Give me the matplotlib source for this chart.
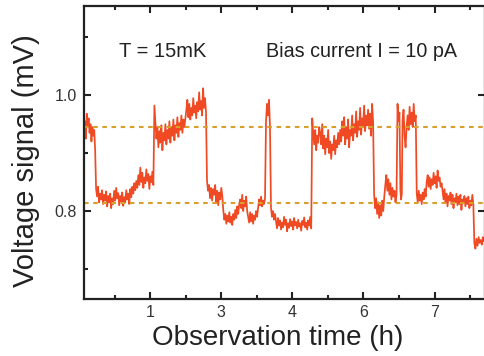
import numpy as np
import matplotlib
matplotlib.use('Agg')
import matplotlib.pyplot as plt
from matplotlib.ticker import FixedLocator, FixedFormatter

# segment edges along the time axis (axis units, ticks sit at 1..5)
edges = [0.07, 0.24, 1.06, 1.51, 1.80, 2.03, 2.63, 2.70, 3.28, 4.15,
         4.48, 4.52, 4.55, 4.75, 5.56, 5.71]

# voltage readings (mV) for each plateau
seg_a = [0.930, 0.955, 0.925, 0.968, 0.945, 0.960, 0.935, 0.950, 0.920, 0.945,
         0.930, 0.940, 0.905]
seg_b = [0.838, 0.825, 0.842, 0.815, 0.830, 0.820, 0.836, 0.812, 0.828, 0.818,
         0.834, 0.808, 0.826, 0.815, 0.830, 0.805, 0.822, 0.812, 0.835, 0.818,
         0.840, 0.822, 0.831, 0.810, 0.826, 0.816, 0.832, 0.809, 0.824, 0.815,
         0.836, 0.820, 0.830, 0.812, 0.838, 0.824,
         0.842, 0.830, 0.848, 0.836, 0.852, 0.840,
         0.862, 0.845, 0.875, 0.850, 0.866, 0.840, 0.858, 0.848, 0.872, 0.852,
         0.864, 0.838, 0.860, 0.850, 0.868, 0.845]
seg_c = [0.982, 0.955, 0.925, 0.945, 0.910, 0.938, 0.918, 0.948, 0.905, 0.935,
         0.922, 0.950, 0.915, 0.940, 0.925, 0.955, 0.918, 0.945, 0.930, 0.958,
         0.922, 0.948, 0.935, 0.962, 0.928, 0.952, 0.940, 0.965, 0.935, 0.958,
         0.945, 0.960]
seg_d = [0.975, 0.992, 0.962, 0.985, 0.958, 0.978, 0.965, 0.995, 0.970, 0.982,
         0.960, 0.988, 0.972, 1.005, 0.975, 0.990, 0.965, 1.012, 0.978, 0.995,
         0.970]
seg_e = [0.852, 0.835, 0.845, 0.822, 0.840, 0.818, 0.838, 0.828, 0.845, 0.815,
         0.835, 0.810, 0.832, 0.820, 0.840, 0.825]
seg_f = [0.800, 0.785, 0.795, 0.778, 0.792, 0.782, 0.798, 0.780, 0.790, 0.776,
         0.795, 0.785, 0.802, 0.788, 0.808, 0.795, 0.812,
         0.820, 0.805, 0.828, 0.800, 0.818, 0.808, 0.825, 0.800,
         0.790, 0.780, 0.798, 0.782, 0.795, 0.778, 0.792, 0.785, 0.800, 0.790,
         0.805, 0.820, 0.810, 0.825, 0.808, 0.818, 0.812, 0.822]
seg_g = [0.955, 0.985, 0.965, 0.992, 0.945]
seg_h = [0.805, 0.790, 0.800, 0.785, 0.795,
         0.782, 0.770, 0.788, 0.775, 0.784, 0.768, 0.780, 0.772, 0.790, 0.776,
         0.785, 0.765, 0.779, 0.771, 0.786, 0.774, 0.782, 0.768, 0.788, 0.775,
         0.781, 0.770, 0.785, 0.773, 0.779, 0.766, 0.783, 0.776, 0.789, 0.772,
         0.780, 0.768, 0.784, 0.775, 0.790, 0.770]
seg_i = [0.960, 0.935, 0.915, 0.940, 0.905, 0.930, 0.918, 0.945,
         0.935, 0.915, 0.950, 0.908, 0.930, 0.898, 0.925, 0.910, 0.940, 0.900,
         0.920, 0.890, 0.915, 0.905, 0.930, 0.898, 0.922, 0.910, 0.935, 0.915,
         0.940, 0.920, 0.955, 0.930, 0.962, 0.915, 0.945, 0.925, 0.958, 0.910,
         0.940, 0.930, 0.965, 0.922, 0.950, 0.935, 0.972, 0.928, 0.955, 0.940,
         0.978, 0.932, 0.960, 0.945, 0.982, 0.938, 0.965, 0.948, 0.975, 0.942,
         0.968, 0.930, 0.985, 0.955]
seg_j = [0.830, 0.805, 0.822, 0.795, 0.815, 0.788, 0.810, 0.792, 0.818, 0.800,
         0.825,
         0.845, 0.862, 0.835, 0.855, 0.828, 0.848, 0.820, 0.840, 0.825, 0.835,
         0.815, 0.828]
seg_k = [0.985, 0.955, 0.970]
seg_l = [0.835, 0.820, 0.830]
seg_m = [0.955, 0.975, 0.930, 0.910, 0.945, 0.965, 0.940, 0.980, 0.950, 0.970,
         0.945, 0.985, 0.955, 0.965]
seg_n = [0.830, 0.815, 0.835, 0.818, 0.828, 0.812, 0.832, 0.820, 0.838, 0.825,
         0.850, 0.862, 0.842, 0.858, 0.838, 0.855, 0.845, 0.866, 0.848, 0.860,
         0.840, 0.870, 0.852, 0.858, 0.842, 0.848,
         0.835, 0.820, 0.838, 0.815, 0.830, 0.808, 0.826, 0.818, 0.832, 0.812,
         0.828, 0.805, 0.822, 0.815, 0.830, 0.810, 0.825, 0.812, 0.828, 0.802,
         0.820, 0.815, 0.826, 0.808, 0.822, 0.812, 0.825, 0.805, 0.818, 0.810,
         0.828, 0.812]
seg_o = [0.745, 0.735, 0.752, 0.740, 0.755, 0.745, 0.750, 0.742, 0.755, 0.748]

segments = [seg_a, seg_b, seg_c, seg_d, seg_e, seg_f, seg_g, seg_h, seg_i,
            seg_j, seg_k, seg_l, seg_m, seg_n, seg_o]

levels = [0.945, 0.814]  # the two dashed reference levels
tick_pos = [1, 2, 3, 4, 5]
tick_labels = ['1', '3', '4', '6', '7']

plt.rcParams['font.family'] = ['Liberation Sans', 'DejaVu Sans']

fig = plt.figure(figsize=(4.84, 3.56), dpi=100)
ax = fig.add_axes([84/484, 1 - 298.5/356, 401/484, 292.5/356])

# sample times spread evenly over each plateau
t = []
v = []
for i, seg in enumerate(segments):
    t.extend(np.linspace(edges[i], edges[i+1], len(seg), endpoint=False))
    v.extend(seg)
t.append(edges[-1])
v.append(seg_o[-1])

ax.plot(t, v, color='#ef4a24', lw=1.25)
for lv in levels:
    ax.axhline(lv, color='#d8a02a', lw=1.5, ls=(0, (2.2, 2.2)))

ax.set_xlim(edges[0], edges[-1])
ax.set_ylim(0.649, 1.154)

ax.xaxis.set_major_locator(FixedLocator(tick_pos))
ax.xaxis.set_major_formatter(FixedFormatter(tick_labels))
ax.xaxis.set_minor_locator(FixedLocator([0.5, 1.5, 2.5, 3.5, 4.5, 5.5]))
ax.yaxis.set_major_locator(FixedLocator([0.8, 1.0]))
ax.yaxis.set_minor_locator(FixedLocator([0.7, 0.9, 1.1]))

ax.tick_params(which='both', direction='in', top=True,
               width=1.5, colors='#222222', labelcolor='#333333')
ax.tick_params(which='major', length=5, labelsize=11.5, pad=5, right=True)
ax.tick_params(which='minor', length=3, right=False)
for s in ax.spines.values():
    s.set_linewidth(1.6)
    s.set_color('#222222')

ax.text(0.197, 0.843, 'T = 15mK', transform=ax.transAxes, fontsize=14.5,
        ha='center', va='center', color='#222222')
ax.text(0.691, 0.843, 'Bias current I = 10 pA', transform=ax.transAxes,
        fontsize=14.2, ha='center', va='center', color='#222222')

ax.set_xlabel('Observation time (h)', fontsize=20, color='#222222')
ax.set_ylabel('Voltage signal (mV)', fontsize=21, color='#222222')
ax.xaxis.set_label_coords(0.484, -0.09)
ax.yaxis.set_label_coords(-0.11, 0.47)

fig.savefig('out.png', dpi=100)
